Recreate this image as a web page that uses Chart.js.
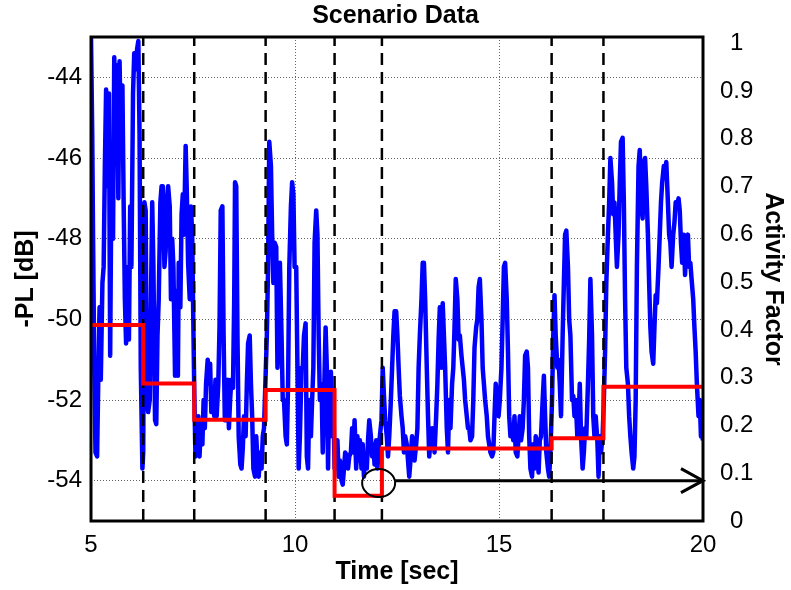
<!DOCTYPE html>
<html>
<head>
<meta charset="utf-8">
<title>Scenario Data</title>
<script src="https://cdn.jsdelivr.net/npm/chart.js@4.4.0/dist/chart.umd.min.js"></script>
<style>
  html, body { margin: 0; padding: 0; background: #fff; }
  canvas { display: block; }
</style>
</head>
<body>
<canvas id="scenarioChart" width="791" height="590"></canvas>
<script>
// measured path loss, sampled along the run
const timeSec = [
  5.00,5.03,5.05,5.08,5.11,5.15,5.18,5.21,5.24,5.28,
  5.31,5.34,5.37,5.41,5.44,5.47,5.50,5.54,5.57,5.60,
  5.64,5.67,5.70,5.73,5.77,5.80,5.83,5.86,5.90,5.93,
  5.96,5.99,6.03,6.06,6.09,6.13,6.16,6.19,6.22,6.26,
  6.28,6.31,6.34,6.37,6.40,6.44,6.47,6.50,6.53,6.57,
  6.60,6.63,6.66,6.70,6.73,6.76,6.80,6.83,6.86,6.89,
  6.93,6.96,6.99,7.02,7.06,7.09,
  7.13,7.15,7.19,7.22,7.25,7.28,7.32,7.35,7.38,7.42,
  7.45,7.48,7.50,7.53,7.56,7.60,7.63,7.66,7.69,7.73,
  7.76,7.79,7.82,7.86,7.89,7.92,7.95,7.99,8.02,8.05,
  8.08,8.12,8.15,8.18,8.22,8.25,8.28,8.31,8.35,8.38,
  8.41,8.44,8.48,8.51,8.53,8.56,8.59,8.62,8.66,8.69,
  8.72,8.75,8.79,8.82,8.85,8.89,8.92,8.95,8.98,9.02,
  9.05,9.08,9.11,9.15,9.18,9.21,9.24,
  9.31,9.34,9.37,9.41,9.44,9.47,9.50,9.54,9.57,9.60,
  9.63,9.67,9.70,9.73,9.77,9.80,9.83,9.86,9.90,9.93,
  9.96,9.99,10.03,10.06,10.09,10.12,10.16,10.19,10.22,10.26,
  10.29,10.32,10.35,10.39,10.42,10.45,10.48,10.52,10.55,10.58,
  10.61,10.65,10.68,10.71,10.75,10.78,10.81,10.84,10.88,10.91,
  10.94,10.97,11.01,11.04,11.07,11.10,11.14,11.17,11.20,11.23,
  11.27,11.30,11.33,11.37,11.40,
  11.43,11.46,11.50,11.53,11.56,11.59,11.63,11.66,11.69,11.72,
  11.76,11.79,11.82,11.86,11.89,11.92,11.95,11.99,12.02,12.05,
  12.08,12.12,12.15,12.18,12.21,12.25,12.28,12.31,12.35,12.38,
  12.41,12.44,12.48,12.51,12.54,12.57,12.61,12.64,12.67,12.70,
  12.74,12.77,12.80,12.83,12.87,12.90,12.93,12.97,13.00,13.03,
  13.06,13.10,13.13,13.16,13.19,13.23,13.26,13.29,13.32,13.36,
  13.39,13.42,13.46,13.49,13.52,13.55,
  13.59,13.62,13.65,13.68,13.72,13.75,13.78,13.81,13.85,13.88,
  13.91,13.94,13.98,14.01,14.04,14.08,14.11,14.14,14.17,14.21,
  14.24,14.27,14.30,14.34,14.37,14.40,14.44,14.47,14.50,14.53,
  14.57,14.60,14.63,14.66,14.70,14.73,14.76,14.79,14.83,14.86,
  14.89,14.92,14.96,14.99,15.02,15.06,15.09,15.12,15.15,15.19,
  15.22,15.25,15.28,15.32,15.35,15.38,15.41,15.45,15.48,15.51,
  15.54,15.58,15.61,15.64,15.68,15.71,
  15.74,15.77,15.81,15.84,15.87,15.90,15.94,15.97,16.00,16.03,
  16.07,16.10,16.13,16.16,16.20,16.23,16.26,16.30,16.33,16.36,
  16.39,16.43,16.46,16.49,16.52,16.56,16.59,16.62,16.65,16.69,
  16.72,16.75,16.79,16.82,16.85,16.88,16.92,16.95,16.98,17.01,
  17.05,17.08,17.11,17.14,17.18,17.21,17.24,17.28,17.31,17.34,
  17.37,17.41,17.44,17.47,17.50,17.54,17.57,17.60,17.63,17.67,
  17.70,17.73,17.77,17.80,17.83,17.86,
  17.89,17.93,17.96,17.99,18.03,18.06,18.09,18.12,18.16,18.19,
  18.22,18.25,18.29,18.32,18.35,18.38,18.42,18.45,18.48,18.52,
  18.55,18.58,18.61,18.65,18.68,18.71,18.74,18.78,18.81,18.84,
  18.87,18.91,18.94,18.97,19.00,19.04,19.07,19.10,19.14,19.17,
  19.20,19.23,19.27,19.30,19.33,19.36,19.40,19.43,19.46,19.49,
  19.53,19.56,19.59,19.63,19.66,19.69,19.72,19.76,19.79,19.82,
  19.85,19.89,19.92,19.95,19.98,20.00
];
const plDb = [
  -43.0,-45.4,-47.9,-51.2,-53.3,-53.4,-51.4,-49.7,-51.5,-49.1,
  -48.7,-46.2,-44.3,-46.7,-44.4,-50.9,-46.5,-48.0,-43.5,-45.4,
  -43.7,-47.0,-43.6,-45.4,-44.2,-47.1,-49.5,-50.6,-48.7,-50.5,
  -47.2,-48.7,-44.4,-43.4,-43.8,-43.3,-43.1,-45.4,-51.2,-53.7,
  -53.3,-47.1,-47.3,-51.9,-52.3,-52.0,-49.5,-47.1,-48.7,-52.5,
  -52.6,-50.4,-49.5,-47.1,-46.7,-46.7,-48.7,-48.3,-47.1,-46.7,
  -47.2,-49.5,-48.0,-48.7,-51.4,-49.3,
  -51.4,-48.6,-49.7,-47.4,-46.9,-47.9,-45.7,-46.9,-48.6,-49.5,
  -47.2,-47.9,-49.5,-51.7,-53.4,-53.2,-52.4,-53.4,-52.7,-53.1,
  -52.0,-52.7,-51.6,-51.0,-51.6,-51.1,-52.3,-51.7,-52.4,-51.5,
  -52.4,-51.6,-50.2,-47.3,-47.2,-50.4,-52.5,-52.5,-51.5,-52.7,
  -52.0,-51.5,-51.7,-49.5,-46.6,-46.7,-50.4,-52.9,-53.6,-53.7,
  -53.2,-52.4,-52.9,-51.6,-50.6,-50.4,-51.6,-52.4,-53.7,-53.9,
  -52.9,-53.5,-53.9,-53.3,-53.7,-52.9,-52.7,
  -50.4,-48.7,-45.6,-46.2,-47.9,-49.1,-48.1,-48.2,-51.2,-50.0,
  -48.6,-50.4,-52.0,-52.0,-52.9,-53.1,-51.6,-48.7,-47.2,-46.6,
  -46.9,-48.7,-48.7,-51.2,-53.7,-52.9,-51.2,-51.2,-50.4,-50.1,
  -53.4,-53.7,-52.0,-52.9,-52.0,-51.2,-48.1,-47.3,-47.9,-50.4,
  -52.0,-51.6,-53.3,-52.0,-50.2,-51.2,-53.7,-51.6,-51.3,-52.9,
  -52.0,-53.7,-53.3,-53.0,-53.9,-53.5,-54.0,-54.1,-53.7,-53.3,
  -53.4,-53.7,-53.4,-53.3,-52.7,
  -53.3,-52.5,-53.7,-52.9,-53.5,-53.0,-53.7,-53.1,-53.9,-53.4,
  -53.7,-53.0,-52.5,-52.9,-53.4,-53.1,-53.6,-53.0,-53.7,-53.2,
  -52.9,-52.5,-51.2,-51.9,-52.5,-52.9,-53.4,-52.9,-52.0,-51.2,
  -50.4,-49.8,-49.8,-50.4,-51.2,-51.9,-52.4,-52.7,-53.3,-52.9,
  -53.1,-53.5,-53.9,-53.5,-52.9,-53.2,-53.5,-53.1,-52.7,-51.2,
  -50.4,-49.5,-48.6,-48.6,-49.5,-51.2,-52.4,-53.4,-53.0,-52.7,
  -52.9,-53.3,-52.4,-51.6,-50.5,-49.7,
  -51.2,-49.6,-50.4,-51.2,-52.7,-53.3,-52.0,-52.7,-51.6,-51.2,
  -50.2,-49.0,-49.5,-50.5,-50.4,-50.9,-51.2,-51.5,-52.0,-52.4,
  -52.7,-52.7,-53.0,-52.9,-52.0,-50.7,-50.2,-50.0,-49.2,-49.0,
  -50.0,-51.2,-51.6,-52.0,-52.4,-52.9,-53.1,-53.3,-53.4,-53.3,
  -52.4,-51.6,-52.0,-52.4,-52.0,-51.2,-50.0,-48.7,-48.6,-49.5,
  -50.8,-52.4,-52.9,-52.7,-53.0,-52.4,-53.3,-53.4,-52.9,-52.4,
  -53.0,-52.7,-52.0,-50.9,-50.8,-51.2,
  -52.9,-53.7,-53.9,-53.1,-53.7,-52.9,-53.3,-53.8,-53.0,-52.9,
  -52.0,-51.4,-52.4,-53.3,-53.7,-53.9,-53.3,-52.0,-50.4,-49.4,
  -50.4,-51.2,-51.0,-51.6,-52.4,-50.4,-49.1,-47.9,-47.8,-48.7,
  -50.0,-50.4,-52.0,-51.9,-52.4,-52.0,-52.9,-52.5,-51.6,-52.9,
  -53.7,-53.3,-52.7,-52.9,-51.6,-50.5,-49.0,-50.4,-52.4,-52.9,
  -52.4,-53.0,-53.9,-52.9,-53.3,-52.9,-52.0,-50.8,-49.1,-47.9,
  -47.1,-46.0,-46.6,-47.4,-47.1,-47.9,
  -48.7,-47.9,-46.6,-45.6,-45.5,-47.1,-49.5,-51.2,-51.6,-52.4,
  -52.9,-53.3,-53.7,-53.4,-52.0,-48.7,-46.2,-45.8,-47.1,-47.5,
  -46.1,-46.0,-46.7,-47.9,-49.1,-50.2,-50.8,-51.1,-50.2,-49.4,
  -49.6,-48.7,-47.9,-47.1,-46.6,-46.2,-46.4,-46.1,-47.1,-47.9,
  -48.1,-48.7,-47.9,-47.6,-47.1,-47.2,-47.0,-47.3,-48.1,-48.6,
  -47.9,-48.9,-48.2,-47.9,-48.7,-48.6,-49.0,-49.5,-50.2,-50.8,
  -51.6,-52.4,-52.0,-52.9,-52.9,-53.0
];

// scenario switch instants and the activity factor of each segment
const eventTime = [6.28, 7.53, 9.28, 10.97, 12.13, 16.29, 17.56];
const stepTime = [5, 6.28, 7.53, 9.28, 10.97, 12.13, 16.29, 17.56, 20];
const activity = [0.41, 0.288, 0.212, 0.274, 0.053, 0.152, 0.173, 0.281, 0.281];

// marker circle and arrow along the -54 dB line
const markerTime = 12.05;
const markerDb = -54.06;
const arrowTime = [12.45, 20];
const arrowDb = -54;

// axis limits and ticks
const timeRange = [5, 20];
const dbRange = [-55, -43];
const afRange = [0, 1.013];
const timeTicks = [5, 10, 15, 20];
const dbTicks = [-54, -52, -50, -48, -46, -44];
const afTicks = [0, 0.1, 0.2, 0.3, 0.4, 0.5, 0.6, 0.7, 0.8, 0.9, 1];

const FONT = "'Liberation Sans', Arial, Helvetica, sans-serif";
Chart.defaults.font.family = FONT;
Chart.defaults.color = '#000';

const pathLossPoints = timeSec.map((t, i) => ({ x: t, y: plDb[i] }));
const activityPoints = stepTime.map((t, i) => ({ x: t, y: activity[i] }));
const eventPoints = eventTime.flatMap(t => [
  { x: t, y: dbRange[0] }, { x: t, y: dbRange[1] }, { x: t, y: null }
]);
const arrowPoints = arrowTime.map(t => ({ x: t, y: arrowDb }));

const gridStyle = { color: 'rgba(0,0,0,0.6)', lineWidth: 1, drawTicks: false };
const tickFont = { size: 24 };
const titleFont = { size: 25, weight: 'bold' };

// circle, arrow head and the box around the plot
const overlay = {
  id: 'overlay',
  afterDatasetsDraw(chart) {
    const { ctx, chartArea: a, scales: { x, y } } = chart;
    ctx.save();
    ctx.strokeStyle = '#000';
    ctx.lineWidth = 2;
    ctx.beginPath();
    ctx.ellipse(x.getPixelForValue(markerTime), y.getPixelForValue(markerDb), 16.5, 14, 0, 0, Math.PI * 2);
    ctx.stroke();

    const tipX = x.getPixelForValue(arrowTime[1]);
    const tipY = y.getPixelForValue(arrowDb);
    ctx.lineWidth = 3;
    ctx.beginPath();
    ctx.moveTo(tipX - 22, tipY - 12);
    ctx.lineTo(tipX, tipY);
    ctx.lineTo(tipX - 22, tipY + 12);
    ctx.stroke();

    ctx.strokeRect(a.left, a.top, a.right - a.left, a.bottom - a.top);
    ctx.restore();
  }
};

new Chart(document.getElementById('scenarioChart'), {
  type: 'line',
  data: {
    datasets: [
      {
        label: 'Activity Factor',
        data: activityPoints,
        yAxisID: 'y2',
        borderColor: '#ff0000',
        borderWidth: 4,
        stepped: true,
        pointRadius: 0,
        order: 0
      },
      {
        label: 'Arrow',
        data: arrowPoints,
        yAxisID: 'y',
        borderColor: '#000',
        borderWidth: 3,
        pointRadius: 0,
        order: 1
      },
      {
        label: 'Events',
        data: eventPoints,
        yAxisID: 'y',
        borderColor: '#000',
        borderWidth: 2.5,
        borderDash: [12, 7],
        pointRadius: 0,
        spanGaps: false,
        order: 2
      },
      {
        label: '-PL',
        data: pathLossPoints,
        yAxisID: 'y',
        borderColor: '#0000ff',
        borderWidth: 4.5,
        borderJoinStyle: 'round',
        pointRadius: 0,
        tension: 0,
        order: 3
      }
    ]
  },
  options: {
    responsive: false,
    animation: false,
    events: [],
    layout: { padding: 0 },
    plugins: {
      legend: { display: false },
      tooltip: { enabled: false },
      title: {
        display: true,
        text: 'Scenario Data',
        color: '#000',
        font: titleFont,
        padding: { top: 1, bottom: 6 }
      }
    },
    scales: {
      x: {
        type: 'linear',
        min: timeRange[0],
        max: timeRange[1],
        afterBuildTicks: s => { s.ticks = timeTicks.map(v => ({ value: v })); },
        afterFit: s => { s.height = 69; },
        ticks: { font: tickFont, padding: 10, maxRotation: 0 },
        grid: gridStyle,
        border: { display: false, dash: [1, 2] },
        title: { display: true, text: 'Time [sec]', font: titleFont, padding: { top: 0, bottom: 3 } }
      },
      y: {
        position: 'left',
        min: dbRange[0],
        max: dbRange[1],
        afterBuildTicks: s => { s.ticks = dbTicks.map(v => ({ value: v })); },
        afterFit: s => { s.width = 91; },
        ticks: { font: tickFont, padding: 9 },
        grid: gridStyle,
        border: { display: false, dash: [1, 2] },
        title: { display: true, text: '-PL [dB]', font: titleFont, padding: { top: 11, bottom: 0 } }
      },
      y2: {
        position: 'right',
        min: afRange[0],
        max: afRange[1],
        afterBuildTicks: s => { s.ticks = afTicks.map(v => ({ value: v })); },
        afterFit: s => { s.width = 88; },
        ticks: { font: tickFont, padding: 17, crossAlign: 'center', callback: v => String(v) },
        grid: { display: false, drawTicks: false },
        border: { display: false },
        title: { display: true, text: 'Activity Factor', font: titleFont, padding: { top: 3, bottom: 0 } }
      }
    }
  },
  plugins: [overlay]
});
</script>
</body>
</html>
